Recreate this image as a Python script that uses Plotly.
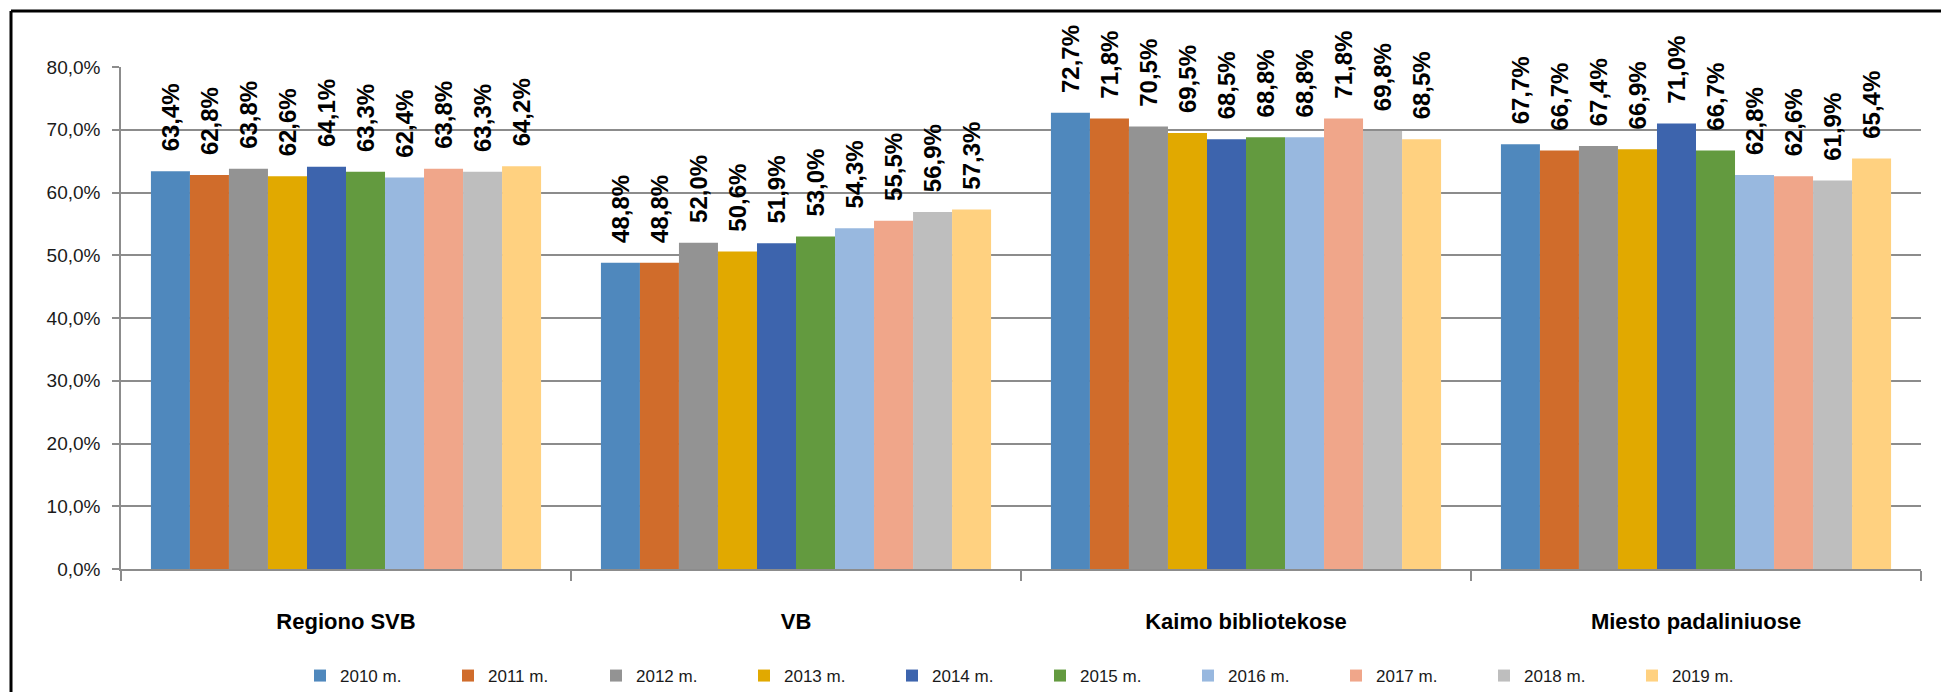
import plotly.graph_objects as go

categories = ["Regiono SVB", "VB", "Kaimo bibliotekose", "Miesto padaliniuose"]
years = ["2010 m.", "2011 m.", "2012 m.", "2013 m.", "2014 m.",
         "2015 m.", "2016 m.", "2017 m.", "2018 m.", "2019 m."]
values = {
    "2010 m.": [63.4, 48.8, 72.7, 67.7],
    "2011 m.": [62.8, 48.8, 71.8, 66.7],
    "2012 m.": [63.8, 52.0, 70.5, 67.4],
    "2013 m.": [62.6, 50.6, 69.5, 66.9],
    "2014 m.": [64.1, 51.9, 68.5, 71.0],
    "2015 m.": [63.3, 53.0, 68.8, 66.7],
    "2016 m.": [62.4, 54.3, 68.8, 62.8],
    "2017 m.": [63.8, 55.5, 71.8, 62.6],
    "2018 m.": [63.3, 56.9, 69.8, 61.9],
    "2019 m.": [64.2, 57.3, 68.5, 65.4],
}
colors = ["#4F88BD", "#D06C2B", "#939393", "#E1A900", "#3D64AD",
          "#639A3F", "#98B8DF", "#F0A68A", "#BEBEBE", "#FFD180"]

FONT = "Liberation Sans, Arial, sans-serif"

fig = go.Figure()
for yr, c in zip(years, colors):
    fig.add_trace(go.Bar(
        name=yr, x=categories, y=values[yr], marker_color=c,
        marker_line_width=0,
        texttemplate="\u2002\u2009%{y:.1f}%", textposition="outside",
        textangle=-90, constraintext="none", cliponaxis=False,
        textfont=dict(family=FONT, size=24, color="black", weight="bold"),
    ))

L, R, T, B = 121, 20, 67, 123
W, H = 1941, 692
pw, ph = W - L - R, H - T - B

fig.update_layout(
    width=W, height=H, autosize=False,
    margin=dict(l=L, r=R, t=T, b=B, autoexpand=False),
    barmode="group", bargap=0.133, bargroupgap=0,
    separators=", ",
    plot_bgcolor="white", paper_bgcolor="white",
    font=dict(family=FONT, color="#1a1a1a"),
    legend=dict(orientation="h", xanchor="left", yanchor="middle",
                xref="container", yref="container",
                x=300 / W, y=1 - 676 / H,
                font=dict(size=17), itemwidth=30,
                entrywidth=103, entrywidthmode="pixels",
                bgcolor="rgba(0,0,0,0)"),
    showlegend=True,
)
fig.update_yaxes(range=[0, 80], dtick=10, ticksuffix="%", tickformat=".1f",
                 showgrid=True, gridcolor="#8C8C8C", gridwidth=1.5,
                 showline=True, linecolor="#8C8C8C", linewidth=1.5,
                 ticks="outside", ticklen=7, tickcolor="#8C8C8C", tickwidth=1.5,
                 tickfont=dict(size=19), ticklabelstandoff=8, zeroline=False,
                 automargin=False)
fig.update_xaxes(showline=True, linecolor="#8C8C8C", linewidth=1.5,
                 ticks="outside", tickson="boundaries", ticklen=10,
                 tickcolor="#8C8C8C", tickwidth=1.5,
                 tickfont=dict(size=22, weight="bold", family=FONT, color="black"),
                 ticklabelstandoff=32, automargin=False)

# chart frame: only top and left edges are visible
fx0 = (11 - L) / pw
fx1 = (W + 5 - L) / pw
fy_top = (H - B - 11) / ph
fy_bot = (H - B - (H + 5)) / ph
fig.add_shape(type="line", xref="paper", yref="paper",
              x0=fx0, x1=fx1, y0=fy_top, y1=fy_top,
              line=dict(color="black", width=3), layer="below")
fig.add_shape(type="line", xref="paper", yref="paper",
              x0=fx0, x1=fx0, y0=fy_top, y1=fy_bot,
              line=dict(color="black", width=3), layer="below")

fig.write_html("out.html", config={"displayModeBar": False},
               post_script="document.body.style.margin='0';document.body.style.overflow='hidden';")
